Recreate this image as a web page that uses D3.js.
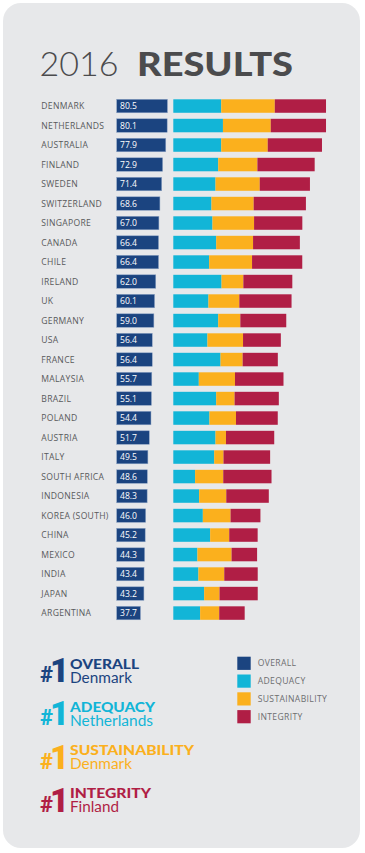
<!DOCTYPE html>
<html><head><meta charset="utf-8">
<script src="https://cdn.jsdelivr.net/npm/d3@7"></script>
<style>
html,body{margin:0;padding:0;background:#fff;}
svg{display:block;}
</style></head>
<body>
<script>
const countries = ["DENMARK","NETHERLANDS","AUSTRALIA","FINLAND","SWEDEN","SWITZERLAND","SINGAPORE","CANADA","CHILE","IRELAND","UK","GERMANY","USA","FRANCE","MALAYSIA","BRAZIL","POLAND","AUSTRIA","ITALY","SOUTH AFRICA","INDONESIA","KOREA (SOUTH)","CHINA","MEXICO","INDIA","JAPAN","ARGENTINA"];
const overall = [80.5,80.1,77.9,72.9,71.4,68.6,67.0,66.4,66.4,62.0,60.1,59.0,56.4,56.4,55.7,55.1,54.4,51.7,49.5,48.6,48.3,46.0,45.2,44.3,43.4,43.2,37.7];
const adequacy = [76.1,78.8,76.1,71.3,67.0,60.6,62.2,68.1,56.9,76.6,55.8,71.3,54.2,75.0,40.5,68.1,57.4,67.0,64.9,34.6,41.0,46.9,58.5,38.3,39.9,49.0,42.6];
const sustainability = [85.0,75.9,73.8,62.2,70.2,67.0,66.0,58.5,68.1,34.6,49.0,35.1,56.5,35.1,57.4,29.2,42.1,16.6,14.8,44.7,43.1,44.0,30.3,54.2,41.0,24.4,30.3];
const integrity = [81.3,87.7,86.1,90.9,79.7,82.9,76.6,74.3,79.7,77.7,82.9,72.9,60.0,55.8,77.0,70.2,66.3,76.6,74.0,76.6,67.5,47.4,45.1,40.5,53.1,60.6,40.4];
const legendLabels = ["OVERALL","ADEQUACY","SUSTAINABILITY","INTEGRITY"];
const winnerTitles = ["OVERALL","ADEQUACY","SUSTAINABILITY","INTEGRITY"];
const winnerNames = ["Denmark","Netherlands","Denmark","Finland"];
const titleLight = "2016";
const titleBold = "RESULTS";

const colors = ["#1b4480","#12b5d7","#fbb01d","#b01e45"];
const W = 365, H = 853;
const svg = d3.select("body").append("svg").attr("width", W).attr("height", H);

// card
svg.append("rect").attr("x",3).attr("y",3).attr("width",357).attr("height",845)
  .attr("rx",18).attr("fill","#e7e8ea");

// title
const t = svg.append("text").attr("x",39.5).attr("y",76).attr("fill","#4b4b4d")
  .style("font-family","Lato, 'Open Sans', sans-serif").style("font-size","33px");
t.append("tspan").style("font-weight",300)
  .attr("textLength",79).attr("lengthAdjust","spacingAndGlyphs").text(titleLight);
t.append("tspan").attr("x",137).style("font-weight",900)
  .attr("textLength",156).attr("lengthAdjust","spacingAndGlyphs").text(titleBold);

const rows = countries.map((c,i)=>({c, o:overall[i], a:adequacy[i], s:sustainability[i], g:integrity[i]}));

const y = d3.scaleBand().domain(countries).range([99.3, 619.8]).paddingInner(0.309);
const x = d3.scaleLinear().domain([0,100]).range([0,63]);
const overallX0 = 116.7, stackX0 = 173.3;

const stack = d3.stack().keys(["a","s","g"]);
const series = stack(rows);

const g = svg.append("g");
// country labels
g.selectAll("text.country").data(rows).join("text").attr("class","country")
  .attr("x",41.3).attr("y",d=>y(d.c)+y.bandwidth()/2+3.2)
  .attr("fill","#58595b")
  .style("font-family","'Open Sans', sans-serif").style("font-size","8.6px").style("letter-spacing","0.3px")
  .text(d=>d.c);

// overall bars
g.selectAll("rect.overall").data(rows).join("rect").attr("class","overall")
  .attr("x",overallX0).attr("y",d=>y(d.c)).attr("height",y.bandwidth())
  .attr("width",d=>x(d.o)).attr("fill",colors[0])
  .attr("stroke","#8da3c4").attr("stroke-width",0.5);
g.selectAll("text.val").data(rows).join("text").attr("class","val")
  .attr("x",overallX0+3.3).attr("y",d=>y(d.c)+y.bandwidth()/2+3.1)
  .attr("fill","#ffffff")
  .style("font-family","'Open Sans', sans-serif").style("font-size","8.6px")
  .text(d=>d.o.toFixed(1));

// stacked bars
series.forEach((s,si)=>{
  g.append("g").selectAll("rect").data(s).join("rect")
    .attr("x",d=>stackX0 + x(d[0])).attr("width",d=>x(d[1])-x(d[0]))
    .attr("y",d=>y(d.data.c)).attr("height",y.bandwidth())
    .attr("fill",colors[si+1]);
});

// winners
const wy0 = 682.3, wstep = 43.1;
const titleW = [69,85,124,81];
const nameW = [62,83,62,49];
winnerTitles.forEach((tt,i)=>{
  const by = wy0 + i*wstep;
  const col = colors[i];
  const n = svg.append("text").attr("x",40.2).attr("y",by).attr("fill",col)
    .style("font-family","Roboto, 'Open Sans', sans-serif").style("font-weight",900);
  n.append("tspan").style("font-size","22px").style("letter-spacing","-3px").text("#");
  n.append("tspan").style("font-size","33px").text("1");
  const w = svg.append("text").attr("x",70).attr("y",by-13.6).attr("fill",col)
    .style("font-family","Lato, 'Open Sans', sans-serif");
  w.append("tspan").style("font-weight",900).style("font-size","13px")
    .attr("textLength",titleW[i]).attr("lengthAdjust","spacingAndGlyphs").text(tt);
  w.append("tspan").attr("x",70).attr("dy",14.1).style("font-weight",400).style("font-size","14.5px")
    .attr("textLength",nameW[i]).attr("lengthAdjust","spacingAndGlyphs").text(winnerNames[i]);
});

// legend
const ly0 = 656.7, lstep = 17.8;
legendLabels.forEach((l,i)=>{
  svg.append("rect").attr("x",237.3).attr("y",ly0+i*lstep).attr("width",13.4).attr("height",13.2)
    .attr("fill",colors[i]);
  svg.append("text").attr("x",257.7).attr("y",ly0+i*lstep+9.6).attr("fill","#6d6e70")
    .style("font-family","'Open Sans', sans-serif").style("font-size","8.6px").style("letter-spacing","0.35px")
    .text(l);
});
</script>
</body></html>
